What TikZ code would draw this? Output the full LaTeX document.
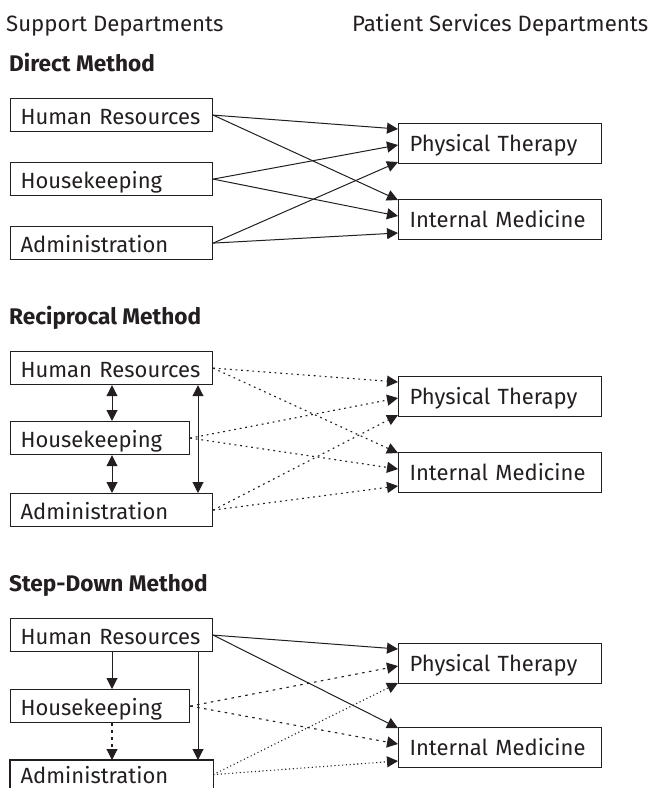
\documentclass[tikz,border=0pt]{standalone}
\usepackage{fontspec}
\setmainfont{Fira Sans}
\usetikzlibrary{arrows.meta,calc}
\definecolor{ink}{HTML}{231F20}
\begin{document}
\begin{tikzpicture}[x=1pt,y=-1pt,
  font=\fontsize{22}{26}\selectfont,
  every node/.style={text=ink},
  box/.style={draw=ink,line width=1.2pt,rectangle,anchor=north west,align=left,
    inner xsep=10pt,inner ysep=0pt,minimum height=33pt,text width=182pt,
    text height=19pt,text depth=0pt},
  sbox/.style={box,text width=159pt},
  tbox/.style={box,minimum height=40pt,text width=181pt,inner xsep=11pt,text height=16pt},
  title/.style={anchor=base west,inner sep=0pt,font=\fontsize{22.6}{26}\selectfont\bfseries},
  head/.style={anchor=base west,inner sep=0pt,font=\fontsize{22.2}{26}\selectfont},
  arr/.style={draw=ink,line width=1pt,-{Triangle[length=11pt,width=11pt]}},
  darr/.style={draw=ink,line width=1pt,{Triangle[length=11pt,width=11pt]}-{Triangle[length=11pt,width=11pt]}},
  rdot/.style={line width=1.1pt,dash pattern=on 1.8pt off 3.8pt},
  sdash/.style={line width=1.1pt,dash pattern=on 2.6pt off 4.4pt},
  sdot/.style={line width=1.1pt,dash pattern=on 1.1pt off 2.7pt},
]
\useasboundingbox (0,0) rectangle (649,788);
\node[head] (hl) at (6,31) {Support Departments};
\node[head] (hr) at (352,31) {Patient Services Departments};

% ---------- Direct
\node[title] (t1) at (9,71) {Direct Method};
\node[box] (hr1) at (10,98) {Human Resources};
\node[box] (hk1) at (10,162) {Housekeeping};
\node[box] (ad1) at (10,226) {Administration};
\node[tbox] (pt1) at (398,123) {Physical Therapy};
\node[tbox] (im1) at (398,199) {Internal Medicine};
\draw[arr] (hr1.east) -- ($(pt1.north west)+(0,6)$);
\draw[arr] (hr1.east) -- ($(im1.north west)+(0,1)$);
\draw[arr] (hk1.east) -- ($(pt1.north west)+(0,22)$);
\draw[arr] (hk1.east) -- ($(im1.north west)+(0,17)$);
\draw[arr] (ad1.east) -- ($(pt1.north west)+(0,39)$);
\draw[arr] (ad1.east) -- ($(im1.north west)+(0,34)$);

% ---------- Reciprocal
\node[title] (t2) at (9,324) {Reciprocal Method};
\node[box] (hr2) at (10,351) {Human Resources};
\node[sbox] (hk2) at (10,421) {Housekeeping};
\node[box] (ad2) at (10,493) {Administration};
\node[tbox] (pt2) at (398,376) {Physical Therapy};
\node[tbox] (im2) at (398,452) {Internal Medicine};
\draw[arr,rdot] (hr2.east) -- ($(pt2.north west)+(0,6)$);
\draw[arr,rdot] (hr2.east) -- ($(im2.north west)+(0,1)$);
\draw[arr,rdot] (hk2.east) -- ($(pt2.north west)+(0,22)$);
\draw[arr,rdot] (hk2.east) -- ($(im2.north west)+(0,17)$);
\draw[arr,rdot] (ad2.east) -- ($(pt2.north west)+(0,39)$);
\draw[arr,rdot] (ad2.east) -- ($(im2.north west)+(0,34)$);
\draw[darr] ($(hr2.south west)+(102,0)$) -- ($(hk2.north west)+(102,0)$);
\draw[darr] ($(hk2.south west)+(102,0)$) -- ($(ad2.north west)+(102,0)$);
\draw[darr] ($(hr2.south west)+(188,0)$) -- ($(ad2.north west)+(188,0)$);

% ---------- Step-Down
\node[title] (t3) at (9,591) {Step-Down Method};
\node[box] (hr3) at (10,618) {Human Resources};
\node[sbox] (hk3) at (10,689) {Housekeeping};
\node[box,draw=none,minimum height=28pt,text height=17pt] (ad3) at (10,760) {Administration};
\draw[draw=ink,line width=1.2pt] ($(ad3.south west)+(0,2)$) |- (ad3.north east) -- ($(ad3.south east)+(0,2)$);
\node[tbox] (pt3) at (398,643) {Physical Therapy};
\node[tbox] (im3) at (398,727) {Internal Medicine};
\draw[arr] (hr3.east) -- ($(pt3.north west)+(0,6)$);
\draw[arr] (hr3.east) -- ($(im3.north west)+(0,1)$);
\draw[arr,sdash] (hk3.east) -- ($(pt3.north west)+(0,23)$);
\draw[arr,sdash] (hk3.east) -- ($(im3.north west)+(0,17)$);
\draw[arr,sdot] (ad3.east) -- ($(pt3.north west)+(0,40)$);
\draw[arr,sdot] (ad3.east) -- ($(im3.north west)+(0,34)$);
\draw[arr] ($(hr3.south west)+(102,0)$) -- ($(hk3.north west)+(102,0)$);
\draw[arr,sdash] ($(hk3.south west)+(102,0)$) -- ($(ad3.north west)+(102,0)$);
\draw[arr] ($(hr3.south west)+(188,0)$) -- ($(ad3.north west)+(188,0)$);
\end{tikzpicture}
\end{document}
